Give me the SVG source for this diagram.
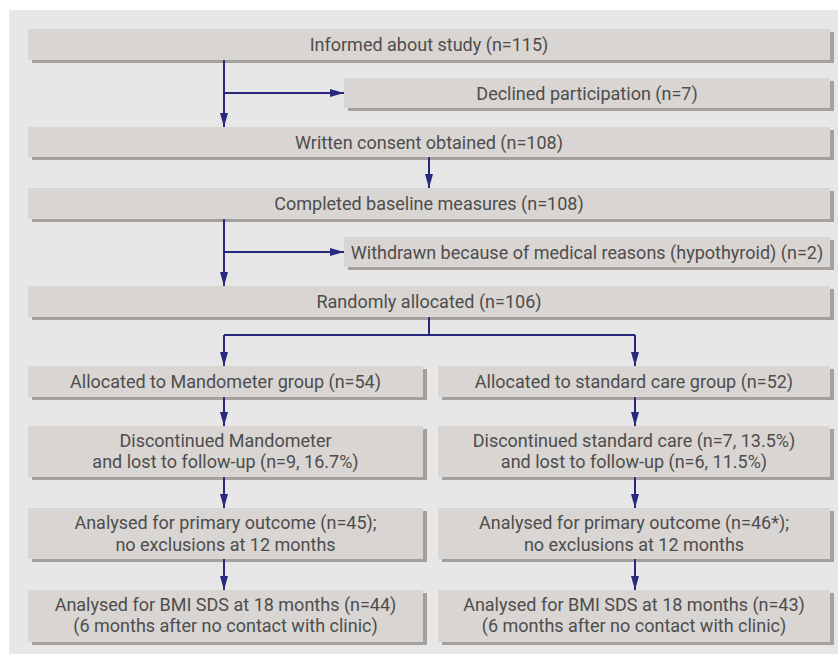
<svg xmlns="http://www.w3.org/2000/svg" width="838" height="655" viewBox="0 0 838 655">
<defs>
<marker id="ah" viewBox="0 0 14 8" refX="14" refY="4" markerWidth="14" markerHeight="8" markerUnits="userSpaceOnUse" orient="auto">
<path d="M0,0 L14,4 L0,8 Z" fill="#29287f"/>
</marker>
</defs>
<style>
.bx{fill:#d9d5d2}
.sh{fill:#a3a09e}
.t{font-family:Roboto,"Open Sans",sans-serif;font-size:18px;fill:#4d4d4d;text-anchor:middle}
.c{stroke:#29287f;stroke-width:2;fill:none}
</style>
<rect x="9" y="10" width="829" height="644" fill="#e7e7e7"/>
<g id="n1"><rect class="sh" x="32" y="32" width="802" height="31"/><rect class="bx" x="28" y="29" width="802" height="31"/><text class="t" x="429" y="51">Informed about study (n=115)</text></g>
<g id="n2"><rect class="sh" x="348" y="81" width="486" height="30"/><rect class="bx" x="344" y="78" width="486" height="30"/><text class="t" x="587" y="100">Declined participation (n=7)</text></g>
<g id="n3"><rect class="sh" x="32" y="130" width="802" height="30"/><rect class="bx" x="28" y="127" width="802" height="30"/><text class="t" x="429" y="149">Written consent obtained (n=108)</text></g>
<g id="n4"><rect class="sh" x="32" y="191" width="802" height="31"/><rect class="bx" x="28" y="188" width="802" height="31"/><text class="t" x="429" y="210">Completed baseline measures (n=108)</text></g>
<g id="n5"><rect class="sh" x="348" y="240" width="486" height="30"/><rect class="bx" x="344" y="237" width="486" height="30"/><text class="t" x="587" y="259">Withdrawn because of medical reasons (hypothyroid) (n=2)</text></g>
<g id="n6"><rect class="sh" x="32" y="289" width="802" height="31"/><rect class="bx" x="28" y="286" width="802" height="31"/><text class="t" x="429" y="308">Randomly allocated (n=106)</text></g>
<g id="n7"><rect class="sh" x="32" y="369" width="395" height="31"/><rect class="bx" x="28" y="366" width="395" height="31"/><text class="t" x="225.5" y="388">Allocated to Mandometer group (n=54)</text></g>
<g id="n8"><rect class="sh" x="442" y="369" width="392" height="31"/><rect class="bx" x="438" y="366" width="392" height="31"/><text class="t" x="634" y="388">Allocated to standard care group (n=52)</text></g>
<g id="n9"><rect class="sh" x="32" y="429" width="395" height="51"/><rect class="bx" x="28" y="426" width="395" height="51"/><text class="t" x="225.5" y="447">Discontinued Mandometer</text><text class="t" x="225.5" y="468">and lost to follow-up (n=9, 16.7%)</text></g>
<g id="n10"><rect class="sh" x="442" y="429" width="392" height="51"/><rect class="bx" x="438" y="426" width="392" height="51"/><text class="t" x="634" y="447">Discontinued standard care (n=7, 13.5%)</text><text class="t" x="634" y="468">and lost to follow-up (n=6, 11.5%)</text></g>
<g id="n11"><rect class="sh" x="32" y="511" width="395" height="51"/><rect class="bx" x="28" y="508" width="395" height="51"/><text class="t" x="225.5" y="529">Analysed for primary outcome (n=45);</text><text class="t" x="225.5" y="551">no exclusions at 12 months</text></g>
<g id="n12"><rect class="sh" x="442" y="511" width="392" height="51"/><rect class="bx" x="438" y="508" width="392" height="51"/><text class="t" x="634" y="529">Analysed for primary outcome (n=46*);</text><text class="t" x="634" y="551">no exclusions at 12 months</text></g>
<g id="n13"><rect class="sh" x="32" y="593" width="395" height="52"/><rect class="bx" x="28" y="590" width="395" height="52"/><text class="t" x="225.5" y="611">Analysed for BMI SDS at 18 months (n=44)</text><text class="t" x="225.5" y="632">(6 months after no contact with clinic)</text></g>
<g id="n14"><rect class="sh" x="442" y="593" width="392" height="52"/><rect class="bx" x="438" y="590" width="392" height="52"/><text class="t" x="634" y="611">Analysed for BMI SDS at 18 months (n=43)</text><text class="t" x="634" y="632">(6 months after no contact with clinic)</text></g>
<g id="connectors">
<path class="c" d="M224,60 V127" marker-end="url(#ah)"/>
<path class="c" d="M224,93 H344" marker-end="url(#ah)"/>
<path class="c" d="M429,157 V188" marker-end="url(#ah)"/>
<path class="c" d="M224,219 V286" marker-end="url(#ah)"/>
<path class="c" d="M224,252 H344" marker-end="url(#ah)"/>
<path class="c" d="M429,317 V335"/>
<path class="c" d="M224,335 H635"/>
<path class="c" d="M224,335 V366" marker-end="url(#ah)"/>
<path class="c" d="M635,335 V366" marker-end="url(#ah)"/>
<path class="c" d="M224,397 V426" marker-end="url(#ah)"/>
<path class="c" d="M635,397 V426" marker-end="url(#ah)"/>
<path class="c" d="M224,477 V508" marker-end="url(#ah)"/>
<path class="c" d="M635,477 V508" marker-end="url(#ah)"/>
<path class="c" d="M224,559 V590" marker-end="url(#ah)"/>
<path class="c" d="M635,559 V590" marker-end="url(#ah)"/>
</g>
</svg>
